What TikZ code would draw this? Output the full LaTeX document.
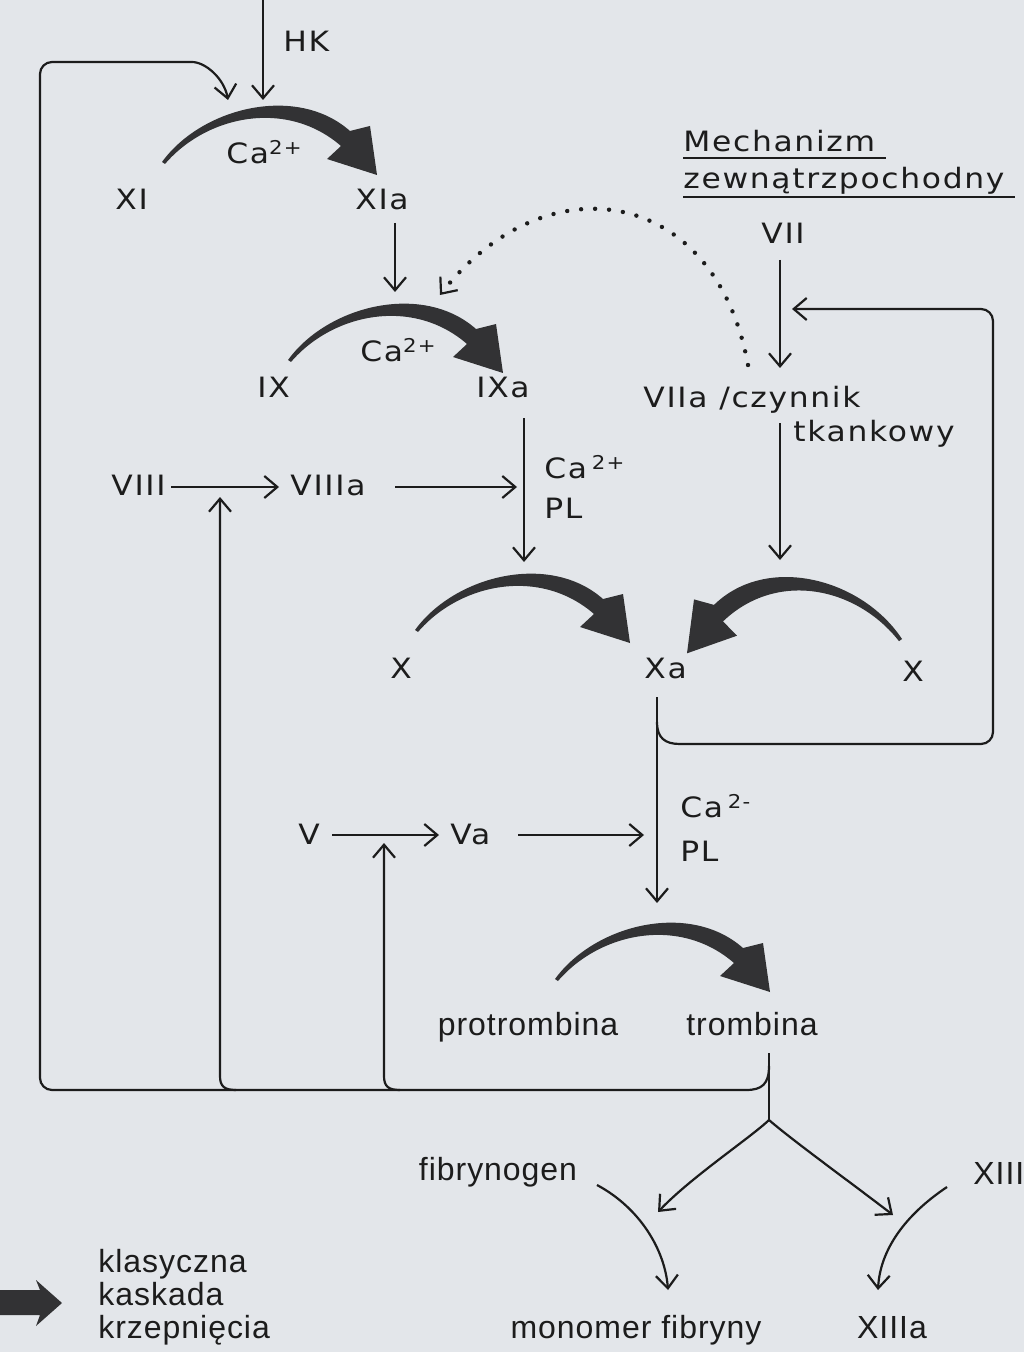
\documentclass[tikz,border=0pt]{standalone}
\usepackage{fontspec}
\usetikzlibrary{arrows.meta}
\newfontfamily\labfont[FakeStretch=1.12,LetterSpace=6]{DejaVu Sans}
\newfontfamily\helfont[LetterSpace=3]{Liberation Sans}
\definecolor{bg}{RGB}{227,230,234}
\definecolor{ink}{RGB}{28,28,28}
\definecolor{fat}{RGB}{50,50,52}
\newcommand{\supr}[1]{\raisebox{4.5pt}{\fontsize{9.5}{9.5}\selectfont #1}}
\tikzset{
  lbl/.style={font=\labfont\fontsize{14}{16}\selectfont, text=ink, inner sep=0pt, anchor=base west},
  hlbl/.style={font=\helfont\fontsize{16}{18}\selectfont, text=ink, inner sep=0pt, anchor=base},
  ln/.style={draw=ink, line width=1.1pt},
  arr/.style={ln, -{Straight Barb[length=6.5pt,width=11pt]}},
  dotarr/.style={draw=ink, line width=2.2pt, line cap=round, dash pattern=on 0pt off 7pt,
    -{Straight Barb[length=6.5pt,width=11pt,line width=1.1pt]}},
  fatarc/.pic={\fill[fat] (0,0) .. controls (40,-55) and (135,-78) .. (188,-31) -- (208,-36) -- (215,13) -- (165,-3) -- (179,-16) .. controls (125,-63) and (45,-47) .. (3,2) -- cycle;}
}
\begin{document}
\begin{tikzpicture}[x=0.5pt,y=-0.5pt]
\fill[bg] (0,0) rectangle (1024,1352);
\useasboundingbox (0,0) rectangle (1024,1352);

% ---- labels (upper lettering)
\node[lbl] (hk) at (283,52) {HK};
\node[lbl] (xi) at (115,210) {XI};
\node[lbl] (xia) at (355,210) {XIa};
\node[lbl] (ca1) at (226,164) {Ca\supr{2+}};
\node[lbl] (ix) at (257,398) {IX};
\node[lbl] (ixa) at (476,398) {IXa};
\node[lbl] (ca2) at (360,362) {Ca\supr{2+}};
\node[lbl] (mech) at (683,152) {Mechanizm};
\node[lbl] (zewn) at (683,189) {zewnątrzpochodny};
\node[lbl] (vii) at (761,244) {VII};
\node[lbl] (viia) at (643,408) {VIIa /czynnik};
\node[lbl] (tk) at (793,441) {tkankowy};
\node[lbl] (viii) at (111,495) {VIII};
\node[lbl] (viiia) at (290,495) {VIIIa};
\node[lbl] (ca3) at (544,478) {Ca\,\supr{2+}};
\node[lbl] (pl1) at (544,518) {PL};
\node[lbl] (xl) at (390,678) {X};
\node[lbl] (xa) at (644,678) {Xa};
\node[lbl] (xr) at (902,681) {X};
\node[lbl] (v) at (298,844) {V};
\node[lbl] (va) at (450,844) {Va};
\node[lbl] (ca4) at (680,817) {Ca\,\supr{2-}};
\node[lbl] (pl2) at (680,861) {PL};

% ---- labels (lower, Helvetica-like)
\node[hlbl] (prot) at (528,1035) {protrombina};
\node[hlbl] (trom) at (752,1035) {trombina};
\node[hlbl] (fib) at (498,1180) {fibrynogen};
\node[hlbl, anchor=base west] (xiii) at (973,1184) {XIII};
\node[hlbl] (mono) at (636,1338) {monomer fibryny};
\node[hlbl] (xiiia) at (892,1338) {XIIIa};
\node[hlbl, anchor=base west] (l1) at (98,1272) {klasyczna};
\node[hlbl, anchor=base west] (l2) at (98,1305) {kaskada};
\node[hlbl, anchor=base west] (l3) at (98,1338) {krzepnięcia};

% ---- underlines
\coordinate (u1a) at (683,158); \coordinate (u1b) at (886,158);
\coordinate (u2a) at (683,197); \coordinate (u2b) at (1015,197);
\draw[ln] (u1a) -- (u1b);
\draw[ln] (u2a) -- (u2b);

% ---- connector end points
\coordinate (hk0) at (263,-4);   \coordinate (hk1) at (263,100);
\coordinate (lp1) at (228,100);
\coordinate (tr0) at (769,1053); \coordinate (tr1) at (769,1066); \coordinate (apex) at (769,1120);
\coordinate (xia0) at (395,223); \coordinate (xia1) at (395,292);
\coordinate (vii0) at (780,260); \coordinate (vii1) at (780,368);
\coordinate (dot0) at (748,365); \coordinate (dot1) at (440,295);
\coordinate (viia0) at (780,423); \coordinate (viia1) at (780,560);
\coordinate (ixa0) at (524,418); \coordinate (ixa1) at (524,562);
\coordinate (viii0) at (171,487); \coordinate (viii1) at (279,487);
\coordinate (viiia0) at (395,487); \coordinate (viiia1) at (517,487);
\coordinate (j1) at (236,1090); \coordinate (up1) at (220,497);
\coordinate (j2) at (400,1090); \coordinate (up2) at (384,843);
\coordinate (v0) at (332,835); \coordinate (v1) at (439,835);
\coordinate (va0) at (518,835); \coordinate (va1) at (644,835);
\coordinate (xa0) at (657,697); \coordinate (xa1) at (657,903);
\coordinate (fb0) at (657,722); \coordinate (fb1) at (792,309);
\coordinate (bl) at (658,1212); \coordinate (br) at (893,1215);
\coordinate (fib0) at (597,1185); \coordinate (fib1) at (668,1290);
\coordinate (x130) at (947,1187); \coordinate (x131) at (878,1290);

% ---- thin connectors
\draw[arr] (hk0) -- (hk1);
\draw[ln] (tr0) -- (apex);
\draw[arr] (tr1) .. controls (769,1084) and (762,1090) .. (746,1090)
   [rounded corners=6pt] -- (40,1090) -- (40,62) -- (180,62)
   [sharp corners] .. controls (205,62) and (224,78) .. (lp1);
\draw[arr] (xia0) -- (xia1);
\draw[arr] (vii0) -- (vii1);
\draw[dotarr] (dot0) .. controls (715,185) and (545,160) .. (dot1);
\draw[arr] (viia0) -- (viia1);
\draw[arr] (ixa0) -- (ixa1);
\draw[arr] (viii0) -- (viii1);
\draw[arr] (viiia0) -- (viiia1);
\draw[arr] (j1) .. controls (224,1090) and (220,1086) .. (220,1076) -- (up1);
\draw[arr] (j2) .. controls (388,1090) and (384,1086) .. (384,1076) -- (up2);
\draw[arr] (v0) -- (v1);
\draw[arr] (va0) -- (va1);
\draw[arr] (xa0) -- (xa1);
\draw[arr] (fb0) .. controls (657,738) and (665,744) .. (680,744)
   [rounded corners=6pt] -- (993,744) -- (993,309) -- (fb1);
\draw[arr] (apex) .. controls (750,1138) and (690,1178) .. (bl);
\draw[arr] (apex) .. controls (792,1140) and (850,1182) .. (br);
\draw[arr] (fib0) .. controls (640,1208) and (665,1250) .. (fib1);
\draw[arr] (x130) .. controls (905,1215) and (880,1250) .. (x131);

% ---- thick cascade arrows
\pic at (162,162) {fatarc};
\pic at (288,360) {fatarc};
\pic at (415,630) {fatarc};
\pic[xscale=-1, yscale=1.1] at (902,639) {fatarc};
\pic at (555,979) {fatarc};

% ---- legend arrow
\fill[fat] (0,1290) -- (40,1290) -- (36,1280) -- (62,1303) -- (36,1326) -- (40,1315) -- (0,1315) -- cycle;
\end{tikzpicture}
\end{document}
